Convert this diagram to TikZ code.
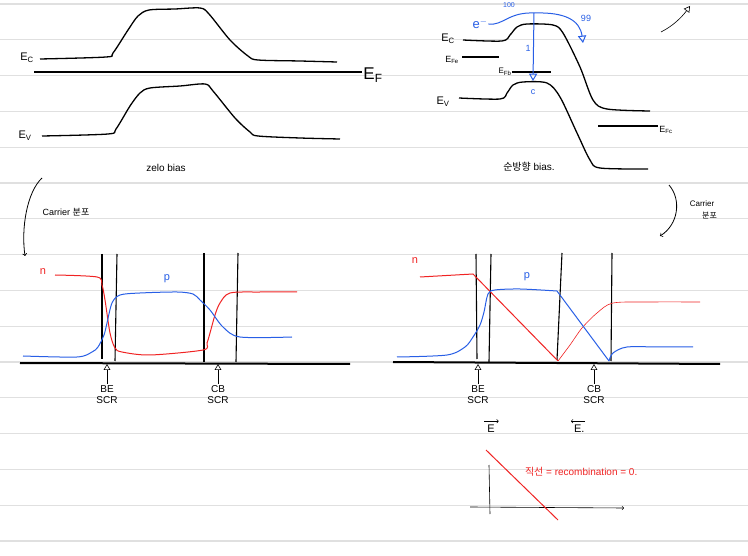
\documentclass[tikz,border=0pt]{standalone}
\usepackage{fontspec}
\setmainfont{Liberation Sans}
\newfontfamily\kr{Noto Sans CJK KR}
\usetikzlibrary{positioning}
\usetikzlibrary{arrows}

\definecolor{penred}{RGB}{240,35,35}
\definecolor{penblue}{RGB}{40,95,230}
\definecolor{ruled}{RGB}{224,224,224}

\begin{document}
\begin{tikzpicture}[x=1pt,y=-1pt,>=open triangle 60,font=\fontsize{11}{13}\selectfont,
	band/.style={line width=1.3pt,black,line join=round},
	level/.style={line width=2pt,black},
	bar/.style={line width=1.1pt,black},
	ncurve/.style={penred,line width=1pt},
	pcurve/.style={penblue,line width=1pt},
	lbl/.style={inner sep=1pt,outer sep=0pt},
	scrlbl/.style={inner sep=1pt,outer sep=1pt,align=center,font=\fontsize{10}{11}\selectfont}]
	\fill[white] (0,0) rectangle (748,556);
	\useasboundingbox (0,0) rectangle (748,556);
	\foreach \k in {0,...,15}
		\draw[ruled,line width=1.3pt] (0,{4+35.8*\k}) -- (748,{4+35.8*\k});

	% zero bias
	\node [lbl] at (27,58) (ec0_txt) {E\textsubscript{C}};
	\draw[band] plot[smooth,tension=.5] coordinates {(40,59) (106,57) (113,53) (128,30) (138,16) (149,10) (175,9) (200,8) (209,14) (230,40) (248,56) (258,60) (300,61) (337,62)};
	\node [lbl,font=\fontsize{17}{19}\selectfont] at (373,75) (ef0_txt) {E\textsubscript{F}};
	\draw[level] (34,72) -- (ef0_txt.west|-0,72);
	\node [lbl] at (25,136) (ev0_txt) {E\textsubscript{V}};
	\draw[band] plot[smooth,tension=.5] coordinates {(42,136) (108,134) (116,129) (130,106) (140,93) (150,88) (180,86) (205,84) (213,91) (235,118) (250,132) (258,136) (300,138) (340,139)};
	\node [lbl,font=\fontsize{10}{12}\selectfont] at (166,168) (zero_txt) {zelo bias};

	% forward bias
	\node [lbl] at (448,39) (ec1_txt) {E\textsubscript{C}};
	\draw[band] plot[smooth,tension=.5] coordinates {(463,40) (502,41) (510,35) (517,27) (527,24) (553,25) (563,33) (580,67) (593,100) (607,109) (650,111)};
	\node [lbl,font=\fontsize{9}{10}\selectfont] at (452,60) (efe_txt) {E\textsubscript{Fe}};
	\draw[level,line width=1.5pt] (462,57) -- (499,57);
	\node [lbl,font=\fontsize{8}{9}\selectfont] at (505,72) (efb_txt) {E\textsubscript{Fb}};
	\draw[level,line width=1.5pt] (efb_txt.east) -- +(39,0);
	\node [lbl] at (443,102) (ev1_txt) {E\textsubscript{V}};
	\draw[band] plot[smooth,tension=.5] coordinates {(459,98) (500,99) (507,93) (513,85) (523,82) (547,83) (560,97) (577,133) (590,160) (600,168) (648,169)};
	\node [lbl,font=\fontsize{9}{10}\selectfont] at (666,130) (efc_txt) {E\textsubscript{Fc}};
	\draw[level,line width=1.5pt] (598,126) -- (efc_txt.west|-0,126);
	\node [lbl,font=\fontsize{10}{12}\selectfont] at (529,167) (fwd_txt) {{\kr 순방향} bias.};

	\node [lbl,penblue,font=\fontsize{13}{14}\selectfont] at (480,24) (em_txt) {e\textsuperscript{$-$}};
	\node [lbl,penblue,font=\fontsize{7}{8}\selectfont] at (509,5) (n100_txt) {100};
	\node [lbl,penblue,font=\fontsize{9}{10}\selectfont] at (586,18) (n99_txt) {99};
	\node [lbl,penblue,font=\fontsize{9}{10}\selectfont] at (528,48) (n1_txt) {1};
	\node [lbl,penblue,font=\fontsize{9}{10}\selectfont] at (533,92) (c_txt) {c};
	\coordinate (split) at (534,13);
	\coordinate (over) at (583,43);
	\coordinate (into) at (533,81);
	\draw[->,penblue,line width=1pt] (em_txt.east) .. controls (503,26) and (508,12) .. (split) .. controls (565,12) and (580,20) .. (over);
	\draw[->,penblue,line width=1pt] (split) -- (into);

	\coordinate (flip0) at (661,32);
	\coordinate (flip1) at (690,6);
	\draw[->,black,semithick] (flip0) .. controls (673,26) and (682,17) .. (flip1);

	% carrier
	\node [lbl,font=\fontsize{9}{10}\selectfont] at (66,212) (carL_txt) {Carrier {\kr 분포}};
	\coordinate (brL0) at (42,178);
	\coordinate (brL1) at (25,256);
	\draw[-to,black,thick] (brL0) .. controls (27,192) and (21,228) .. (brL1);
	\node [lbl,font=\fontsize{8}{9}\selectfont] at (702,204) (carR_txt) {Carrier};
	\node [lbl,font=\fontsize{8}{9}\selectfont,below right=3pt and -14pt of carR_txt] (carR2_txt) {\kr 분포};
	\coordinate (brR0) at (669,185);
	\coordinate (brR1) at (660,236);
	\draw[-to,black,thick] (brR0) .. controls (682,200) and (678,225) .. (brR1);

	% zero bias carriers
	\draw[level] (20,363) -- (350,364);
	\draw[bar] (102,254) -- (102,359);
	\draw[bar] (117,254) -- (115,361);
	\draw[bar] (204,253) -- (204,362);
	\draw[bar] (238,253) -- (236,362);
	\draw[ncurve] plot[smooth,tension=.5] coordinates {(55,275) (97,277) (102,285) (105,300) (110,333) (115,348) (122,352) (150,355) (203,350) (207,343) (210,333) (215,315) (220,303) (230,293) (260,292) (297,292)};
	\draw[pcurve] plot[smooth,tension=.5] coordinates {(23,356) (77,357) (92,352) (98,347) (104,335) (107,323) (112,303) (120,295) (140,293) (177,292) (193,294) (200,300) (210,310) (223,327) (240,337) (292,337)};
	\node [lbl,penred] at (43,272) (n0_txt) {n};
	\node [lbl,penblue] at (167,279) (p0_txt) {p};
	\node [scrlbl] at (107,395) (be0_txt) {BE\\SCR};
	\node [scrlbl] at (218,395) (cb0_txt) {CB\\SCR};
	\draw[->,semithick] (be0_txt.north) -- (be0_txt.north|-0,364);
	\draw[->,semithick] (cb0_txt.north) -- (cb0_txt.north|-0,364);

	% forward bias carriers
	\draw[level] (393,362) -- (720,364);
	\draw[bar] (476,254) -- (477,359);
	\draw[bar] (491,254) -- (489,362);
	\draw[bar] (562,253) -- (557,360);
	\draw[bar] (612,253) -- (611,361);
	\draw[ncurve] (420,277) -- (473,274) -- (558,361);
	\draw[penred,semithick] plot[smooth,tension=.5] coordinates {(558,361) (570,345) (582,328) (597,313) (613,303) (650,302) (700,302)};
	\draw[pcurve] plot[smooth,tension=.5] coordinates {(397,357) (447,355) (465,347) (473,337) (480,325) (484,312) (488,294) (495,290) (520,289) (557,291)};
	\draw[pcurve] (557,291) -- (609,361);
	\draw[pcurve] plot[smooth,tension=.5] coordinates {(609,361) (613,353) (627,347) (660,347) (693,347)};
	\node [lbl,penred] at (415,261) (n1_txt) {n};
	\node [lbl,penblue] at (527,277) (p1_txt) {p};
	\node [scrlbl] at (478,395) (be1_txt) {BE\\SCR};
	\node [scrlbl] at (594,395) (cb1_txt) {CB\\SCR};
	\draw[->,semithick] (be1_txt.north) -- (be1_txt.north|-0,364);
	\draw[->,semithick] (cb1_txt.north) -- (cb1_txt.north|-0,364);

	% field
	\node [lbl] at (491,429) (e1_txt) {E};
	\node [lbl,anchor=west] at (573,429) (e2_txt) {E.};
	\draw[-to,semithick] ([xshift=-2pt,yshift=3pt]e1_txt.north west) -- ([xshift=3pt,yshift=3pt]e1_txt.north east);
	\draw[-to,semithick] ([xshift=6pt,yshift=3pt]e2_txt.north) -- ([xshift=-2pt,yshift=3pt]e2_txt.north west);
	\coordinate (ax0) at (489,465);
	\coordinate (ax1) at (490,514);
	\coordinate (ax2) at (470,507);
	\coordinate (ax3) at (624,508);
	\draw[semithick] (ax0) -- (ax1);
	\draw[semithick,-to] (ax2) -- (ax3);
	\draw[penred,line width=1pt] (486,450) -- (558,520);
	\node [lbl,penred,anchor=west,font=\fontsize{10}{12}\selectfont] at (524,472) (rec_txt) {{\kr 직선} = recombination = 0.};
\end{tikzpicture}
\end{document}
